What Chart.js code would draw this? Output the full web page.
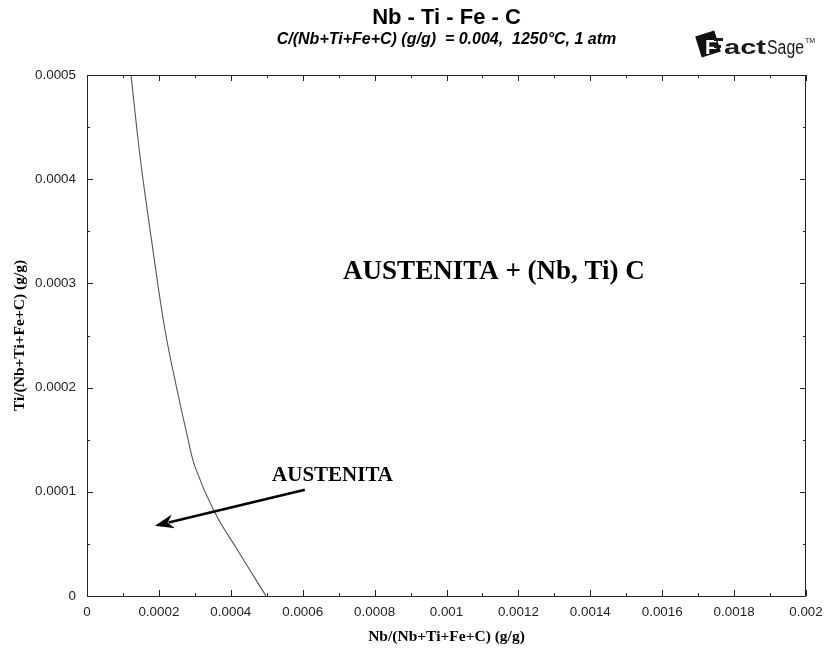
<!DOCTYPE html>
<html>
<head>
<meta charset="utf-8">
<script src="https://cdn.jsdelivr.net/npm/chart.js@4/dist/chart.umd.min.js"></script>
<style>
html,body{margin:0;padding:0;background:#fff;}
#wrap{width:825px;height:652px;position:relative;}
</style>
</head>
<body>
<div id="wrap"><canvas id="c" width="825" height="652"></canvas></div>
<script>
// ---- data ----
const nbFraction = [0.0001224, 0.0001488, 0.0001794, 0.0002170, 0.0002567, 0.0002773, 0.0003004, 0.0003533, 0.0004186, 0.000498];
const tiFraction = [0.000500, 0.0004184, 0.0003417, 0.0002553, 0.0001881, 0.0001564, 0.0001241, 0.0000816, 0.0000441, 0.0];
const xTickLabels = ["0","0.0002","0.0004","0.0006","0.0008","0.001","0.0012","0.0014","0.0016","0.0018","0.002"];
const yTickLabels = ["0","0.0001","0.0002","0.0003","0.0004","0.0005"];
const titleText = "Nb - Ti - Fe - C";
const subtitleText = "C/(Nb+Ti+Fe+C) (g/g)  = 0.004,  1250\u00B0C, 1 atm";
const xAxisTitle = "Nb/(Nb+Ti+Fe+C) (g/g)";
const yAxisTitle = "Ti/(Nb+Ti+Fe+C) (g/g)";
const regionLabel = "AUSTENITA + (Nb, Ti) C";
const regionLabelPos = [0.001132, 0.000311];
const arrowLabel = "AUSTENITA";
const arrowLabelPos = [0.000683, 0.000116];
const arrowFrom = [0.000606, 0.000102];
const arrowTo = [0.000189, 0.0000673];

const points = nbFraction.map((x, i) => ({x: x, y: tiFraction[i]}));
const SANS = '"Liberation Sans", Arial, sans-serif';
const SERIF = '"Liberation Serif", "Times New Roman", serif';

const deco = {
  id: 'deco',
  afterDraw(chart) {
    const ctx = chart.ctx, a = chart.chartArea;
    const xs = chart.scales.x, ys = chart.scales.y;
    ctx.save();
    // frame
    ctx.strokeStyle = '#222'; ctx.lineWidth = 1;
    ctx.strokeRect(a.left + 0.5, a.top + 0.5, a.right - a.left - 1, a.bottom - a.top);
    // ticks on all four sides, pointing inward
    ctx.beginPath();
    xs.ticks.forEach(t => {
      const px = Math.round(xs.getPixelForValue(t.value)) + 0.5;
      const major = Math.round(t.value / 0.0001) % 2 === 0;
      const len = major ? 6 : 3;
      ctx.moveTo(px, a.bottom); ctx.lineTo(px, a.bottom - len);
      ctx.moveTo(px, a.top); ctx.lineTo(px, a.top + len);
    });
    ys.ticks.forEach(t => {
      const py = Math.round(ys.getPixelForValue(t.value)) + 0.5;
      const major = Math.round(t.value / 0.00005) % 2 === 0;
      const len = major ? 6 : 3;
      ctx.moveTo(a.left, py); ctx.lineTo(a.left + len, py);
      ctx.moveTo(a.right, py); ctx.lineTo(a.right - len, py);
    });
    ctx.stroke();

    // titles
    const cx = (a.left + a.right) / 2;
    ctx.fillStyle = '#000';
    ctx.textAlign = 'center'; ctx.textBaseline = 'middle';
    ctx.font = 'bold 22px ' + SANS;
    ctx.fillText(titleText, cx, 18);
    ctx.font = 'italic bold 16px ' + SANS;
    ctx.fillText(subtitleText, cx, 40);

    // axis titles
    ctx.font = 'bold 15.5px ' + SERIF;
    ctx.fillText(xAxisTitle, cx, 637);
    ctx.save();
    ctx.translate(20, (a.top + a.bottom) / 2);
    ctx.rotate(-Math.PI / 2);
    ctx.fillText(yAxisTitle, 0, 0);
    ctx.restore();

    // region labels
    ctx.font = 'bold 27px ' + SERIF;
    ctx.fillText(regionLabel, xs.getPixelForValue(regionLabelPos[0]), ys.getPixelForValue(regionLabelPos[1]));
    ctx.font = 'bold 21px ' + SERIF;
    ctx.fillText(arrowLabel, xs.getPixelForValue(arrowLabelPos[0]), ys.getPixelForValue(arrowLabelPos[1]));

    // arrow
    const x1 = xs.getPixelForValue(arrowFrom[0]), y1 = ys.getPixelForValue(arrowFrom[1]);
    const x2 = xs.getPixelForValue(arrowTo[0]), y2 = ys.getPixelForValue(arrowTo[1]);
    const ang = Math.atan2(y2 - y1, x2 - x1);
    const hl = 17, hw = 7;
    const bx = x2 - hl * Math.cos(ang), by = y2 - hl * Math.sin(ang);
    ctx.strokeStyle = '#000'; ctx.lineWidth = 2.6;
    ctx.beginPath(); ctx.moveTo(x1, y1); ctx.lineTo(bx + 3 * Math.cos(ang), by + 3 * Math.sin(ang)); ctx.stroke();
    ctx.beginPath();
    ctx.moveTo(x2, y2);
    ctx.lineTo(bx - hw * Math.sin(ang) - 2 * Math.cos(ang), by + hw * Math.cos(ang) - 2 * Math.sin(ang));
    ctx.lineTo(bx + 4 * Math.cos(ang), by + 4 * Math.sin(ang));
    ctx.lineTo(bx + hw * Math.sin(ang) - 2 * Math.cos(ang), by - hw * Math.cos(ang) - 2 * Math.sin(ang));
    ctx.closePath(); ctx.fillStyle = '#000'; ctx.fill();

    // FactSage logo
    ctx.save();
    ctx.translate(708, 44);
    ctx.rotate(-0.3);
    ctx.fillStyle = '#111';
    ctx.fillRect(-10, -11, 20, 22);
    ctx.restore();
    ctx.textAlign = 'left'; ctx.textBaseline = 'alphabetic';
    ctx.fillStyle = '#fff';
    ctx.font = 'bold 20px ' + SANS;
    ctx.fillText('F', 705, 54);
    ctx.fillStyle = '#1a1a1a';
    ctx.fillRect(714, 38, 9, 3);
    ctx.fillRect(714, 45, 7, 3);
    ctx.font = 'bold 21px ' + SANS;
    let wa = ctx.measureText('act').width;
    ctx.save(); ctx.translate(724, 54); ctx.scale(42 / wa, 1); ctx.fillText('act', 0, 0); ctx.restore();
    ctx.font = '20px ' + SANS;
    let ws = ctx.measureText('Sage').width;
    ctx.save(); ctx.translate(767, 54); ctx.scale(37 / ws, 1); ctx.fillText('Sage', 0, 0); ctx.restore();
    ctx.font = '7px ' + SANS;
    ctx.fillText('TM', 805, 43);
    ctx.restore();
  }
};

new Chart(document.getElementById('c'), {
  type: 'scatter',
  data: {
    datasets: [{
      data: points,
      showLine: true,
      borderColor: '#555',
      borderWidth: 1.1,
      pointRadius: 0,
      tension: 0.4,
      fill: false
    }]
  },
  options: {
    responsive: false,
    animation: false,
    devicePixelRatio: 1,
    layout: {padding: {top: 75, right: 19, left: 0, bottom: 0}},
    plugins: {legend: {display: false}, tooltip: {enabled: false}, title: {display: false}},
    scales: {
      x: {
        type: 'linear', min: 0, max: 0.002,
        afterFit: s => { s.height = 56; s.paddingLeft = 0; s.paddingRight = 0; },
        grid: {display: false, drawTicks: false},
        border: {display: false},
        ticks: {
          stepSize: 0.0001, autoSkip: false, maxRotation: 0, padding: 8,
          color: '#222', font: {family: SANS, size: 13.4},
          callback: v => { const k = Math.round(v / 0.0001); return k % 2 === 0 ? xTickLabels[k / 2] : ''; }
        }
      },
      y: {
        type: 'linear', min: 0, max: 0.0005,
        afterFit: s => { s.width = 87; s.paddingTop = 0; s.paddingBottom = 0; },
        grid: {display: false, drawTicks: false},
        border: {display: false},
        ticks: {
          stepSize: 0.00005, autoSkip: false, padding: 11,
          color: '#222', font: {family: SANS, size: 13.4},
          callback: v => { const k = Math.round(v / 0.00005); return k % 2 === 0 ? yTickLabels[k / 2] : ''; }
        }
      }
    }
  },
  plugins: [deco]
});
</script>
</body>
</html>
